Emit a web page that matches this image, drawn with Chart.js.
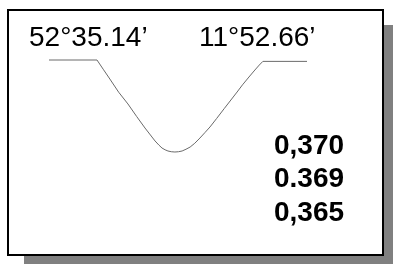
<!DOCTYPE html>
<html>
<head>
<meta charset="utf-8">
<script src="https://cdn.jsdelivr.net/npm/chart.js@4/dist/chart.umd.min.js"></script>
<style>
  html, body { margin: 0; padding: 0; background: #fff; overflow: hidden; }
  #wrap { position: relative; width: 393px; height: 264px; overflow: hidden; }
  .shadow { position: absolute; left: 24px; top: 25px; width: 377px; height: 247px; background: #808080; }
  .box { position: absolute; left: 7px; top: 9px; width: 373px; height: 243px; border: 2px solid #000; background: #fff; }
  canvas { position: absolute; left: 0; top: 0; }
  .t { position: absolute; font-family: "Liberation Sans", Arial, sans-serif; font-size: 28px; line-height: 28px; color: #000; white-space: nowrap; }
  .vals { font-weight: bold; line-height: 33.5px; }
</style>
</head>
<body>
<div id="wrap">
  <div class="shadow"></div>
  <div class="box"></div>
  <canvas id="c" width="393" height="264"></canvas>
  <div class="t" id="lat" style="left:29px; top:23px;"></div>
  <div class="t" id="lon" style="left:199px; top:23px;"></div>
  <div class="t vals" id="vals" style="left:274px; top:127.6px;"></div>
</div>
<script>
// Profile position along the section (0-100) and relative depth (0 = rim, 100 = bottom)
const positions = [0, 18.6, 21.0, 23.6, 27.0, 30.6, 34.0, 37.2, 39.3, 41.1, 42.6, 43.8, 45.0, 46.1, 47.4, 48.8, 50.2, 51.6, 53.1, 54.7, 56.5, 58.5, 60.4, 62.4, 65.0, 68.0, 70.5, 72.9, 75.0, 77.5, 79.8, 81.5, 82.9, 100];
const depths    = [0, 0, 10.0, 20.7, 35.0, 47.8, 61.5, 73.9, 81.5, 88.0, 92.5, 95.7, 97.6, 98.9, 99.7, 100, 99.7, 98.9, 97.0, 94.6, 90.5, 84.8, 79.0, 72.8, 63.5, 52.5, 43.5, 34.8, 27.0, 18.5, 10.9, 5.5, 1.5, 1.5];
const coordLabels = ["52°35.14’", "11°52.66’"];
const valueLabels = ["0,370", "0.369", "0,365"];

document.getElementById('lat').textContent = coordLabels[0];
document.getElementById('lon').textContent = coordLabels[1];
document.getElementById('vals').innerHTML = valueLabels.map(s => '<div>' + s + '</div>').join('');

const points = positions.map((x, i) => ({ x: x, y: depths[i] }));

new Chart(document.getElementById('c'), {
  type: 'line',
  data: {
    datasets: [{
      data: points,
      borderColor: '#6a6a6a',
      borderWidth: 1,
      pointRadius: 0,
      tension: 0,
      fill: false,
      clip: false
    }]
  },
  options: {
    responsive: false,
    devicePixelRatio: 1,
    animation: false,
    layout: { padding: { left: 49, right: 86, top: 60, bottom: 112 } },
    plugins: { legend: { display: false }, tooltip: { enabled: false } },
    scales: {
      x: { type: 'linear', min: 0, max: 100, display: false },
      y: { type: 'linear', min: 0, max: 100, reverse: true, display: false }
    }
  }
});
</script>
</body>
</html>
